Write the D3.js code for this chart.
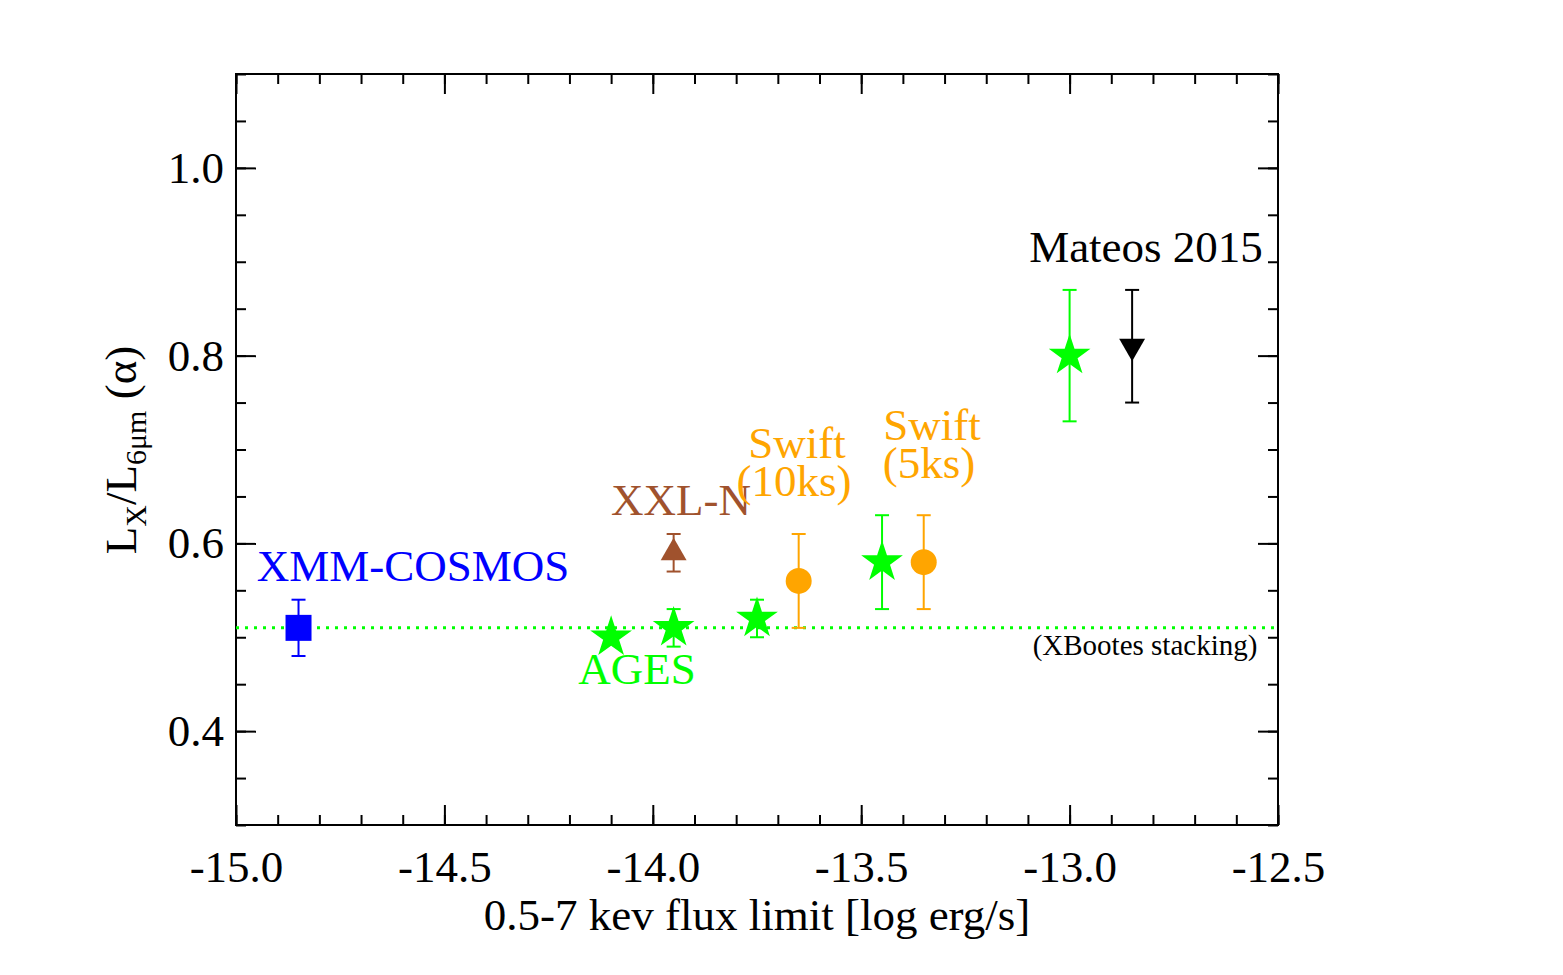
<!DOCTYPE html>
<html>
<head>
<meta charset="utf-8">
<script src="https://cdn.jsdelivr.net/npm/d3@7"></script>
<style>
body { margin: 0; background: #fff; }
svg text { font-family: "Liberation Serif", "DejaVu Serif", serif; }
</style>
</head>
<body>
<svg id="chart" width="1563" height="975"></svg>
<script>
// data
const agesX = [-14.10, -13.95, -13.75, -13.45, -13.00];
const agesY = [0.50, 0.51, 0.52, 0.58, 0.80];
const agesLo = [null, 0.49, 0.50, 0.53, 0.73];
const agesHi = [null, 0.53, 0.54, 0.63, 0.87];

const swiftX = [-13.65, -13.35];
const swiftY = [0.56, 0.58];
const swiftLo = [0.51, 0.53];
const swiftHi = [0.61, 0.63];

const cosmosX = [-14.85];
const cosmosY = [0.51];
const cosmosLo = [0.48];
const cosmosHi = [0.54];

const xxlX = [-13.95];
const xxlY = [0.59];
const xxlLo = [0.57];
const xxlHi = [0.61];

const mateosX = [-12.85];
const mateosY = [0.81];
const mateosLo = [0.75];
const mateosHi = [0.87];

const stackLevel = 0.51;

const xMajor = [-15.0, -14.5, -14.0, -13.5, -13.0, -12.5];
const yMajor = [0.4, 0.6, 0.8, 1.0];

const green = "#00ff00", orange = "#ffa500", blue = "#0000ff", brown = "#a0522d";

const L = 236, R = 1278, T = 74, B = 825;
const FS = 45;
const svg = d3.select("#chart");
const x = d3.scaleLinear().domain([-15.0, -12.5]).range([L, R]);
const y = d3.scaleLinear().domain([0.3, 1.1]).range([B, T]);

const xMinor = d3.range(-150, -124).map(d => d / 10);
const yMinor = d3.range(6, 23).map(d => d / 20);

function styleAxis(g) {
    g.select(".domain").remove();
    g.selectAll(".tick line").attr("stroke", "#000").attr("stroke-width", 2);
    g.selectAll("text").attr("font-size", FS).attr("fill", "#000");
}

// bottom
svg.append("g").attr("transform", `translate(0,${B})`)
    .call(d3.axisBottom(x).tickValues(xMinor).tickSize(-10).tickFormat(""))
    .call(styleAxis);
svg.append("g").attr("transform", `translate(0,${B})`)
    .call(d3.axisBottom(x).tickValues(xMajor).tickSize(-20).tickFormat(d => d3.format(".1f")(d).replace("−", "-")))
    .call(styleAxis)
    .selectAll("text").attr("y", 57).attr("dy", 0);
// top
svg.append("g").attr("transform", `translate(0,${T})`)
    .call(d3.axisTop(x).tickValues(xMinor).tickSize(-10).tickFormat(""))
    .call(styleAxis);
svg.append("g").attr("transform", `translate(0,${T})`)
    .call(d3.axisTop(x).tickValues(xMajor).tickSize(-20).tickFormat(""))
    .call(styleAxis);
// left
svg.append("g").attr("transform", `translate(${L},0)`)
    .call(d3.axisLeft(y).tickValues(yMinor).tickSize(-10).tickFormat(""))
    .call(styleAxis);
svg.append("g").attr("transform", `translate(${L},0)`)
    .call(d3.axisLeft(y).tickValues(yMajor).tickSize(-20).tickPadding(12).tickFormat(d3.format(".1f")))
    .call(styleAxis);
// right
svg.append("g").attr("transform", `translate(${R},0)`)
    .call(d3.axisRight(y).tickValues(yMinor).tickSize(-10).tickFormat(""))
    .call(styleAxis);
svg.append("g").attr("transform", `translate(${R},0)`)
    .call(d3.axisRight(y).tickValues(yMajor).tickSize(-20).tickFormat(""))
    .call(styleAxis);

svg.append("rect").attr("x", L).attr("y", T).attr("width", R - L).attr("height", B - T)
    .attr("fill", "none").attr("stroke", "#000").attr("stroke-width", 2);

// axis titles
svg.append("text").attr("x", 757).attr("y", 930).attr("text-anchor", "middle")
    .attr("font-size", FS).text("0.5-7 kev flux limit [log erg/s]");

const yt = svg.append("text").attr("transform", "translate(136,450) rotate(-90)")
    .attr("text-anchor", "middle").attr("font-size", FS);
yt.append("tspan").text("L");
yt.append("tspan").attr("font-size", 30).attr("dy", 10).text("X");
yt.append("tspan").attr("dy", -10).text("/L");
yt.append("tspan").attr("font-size", 30).attr("dy", 10).text("6μm");
yt.append("tspan").attr("dy", -10).text(" (α)");

// stacking line
svg.append("line").attr("x1", L).attr("x2", R).attr("y1", y(stackLevel)).attr("y2", y(stackLevel))
    .attr("stroke", green).attr("stroke-width", 3).attr("stroke-dasharray", "3,6");

function errBars(xs, los, his, color) {
    const g = svg.append("g").attr("stroke", color).attr("stroke-width", 2);
    xs.forEach((xv, i) => {
        if (los[i] == null) return;
        const cx = x(xv);
        g.append("line").attr("x1", cx).attr("x2", cx).attr("y1", y(los[i])).attr("y2", y(his[i]));
        g.append("line").attr("x1", cx - 7).attr("x2", cx + 7).attr("y1", y(los[i])).attr("y2", y(los[i]));
        g.append("line").attr("x1", cx - 7).attr("x2", cx + 7).attr("y1", y(his[i])).attr("y2", y(his[i]));
    });
}

function marks(xs, ys, type, size, color, rot) {
    const sym = d3.symbol().type(type).size(size);
    svg.append("g").selectAll("path").data(xs).join("path")
        .attr("d", sym)
        .attr("transform", (d, i) => `translate(${x(d)},${y(ys[i])}) rotate(${rot || 0})`)
        .attr("fill", color);
}

errBars(cosmosX, cosmosLo, cosmosHi, blue);
marks(cosmosX, cosmosY, d3.symbolSquare, 26 * 26, blue);

errBars(agesX, agesLo, agesHi, green);
marks(agesX, agesY, d3.symbolStar, 540, green);

errBars(xxlX, xxlLo, xxlHi, brown);
marks(xxlX, xxlY, d3.symbolTriangle, 290, brown);

errBars(swiftX, swiftLo, swiftHi, orange);
marks(swiftX, swiftY, d3.symbolCircle, Math.PI * 13 * 13, orange);

errBars(mateosX, mateosLo, mateosHi, "#000");
marks(mateosX, mateosY, d3.symbolTriangle, 290, "#000", 180);

// labels
function label(tx, ty, text, color, size) {
    svg.append("text").attr("x", tx).attr("y", ty).attr("fill", color)
        .attr("font-size", size).attr("text-anchor", "middle").text(text);
}
label(413, 581, "XMM-COSMOS", blue, FS);
label(637, 684, "AGES", green, FS);
label(681, 515, "XXL-N", brown, FS);
label(797, 458, "Swift", orange, FS);
label(794, 496, "(10ks)", orange, FS);
label(932, 440, "Swift", orange, FS);
label(929, 478, "(5ks)", orange, FS);
label(1146, 262, "Mateos 2015", "#000", FS);
label(1145, 655, "(XBootes stacking)", "#000", 29);
</script>
</body>
</html>
